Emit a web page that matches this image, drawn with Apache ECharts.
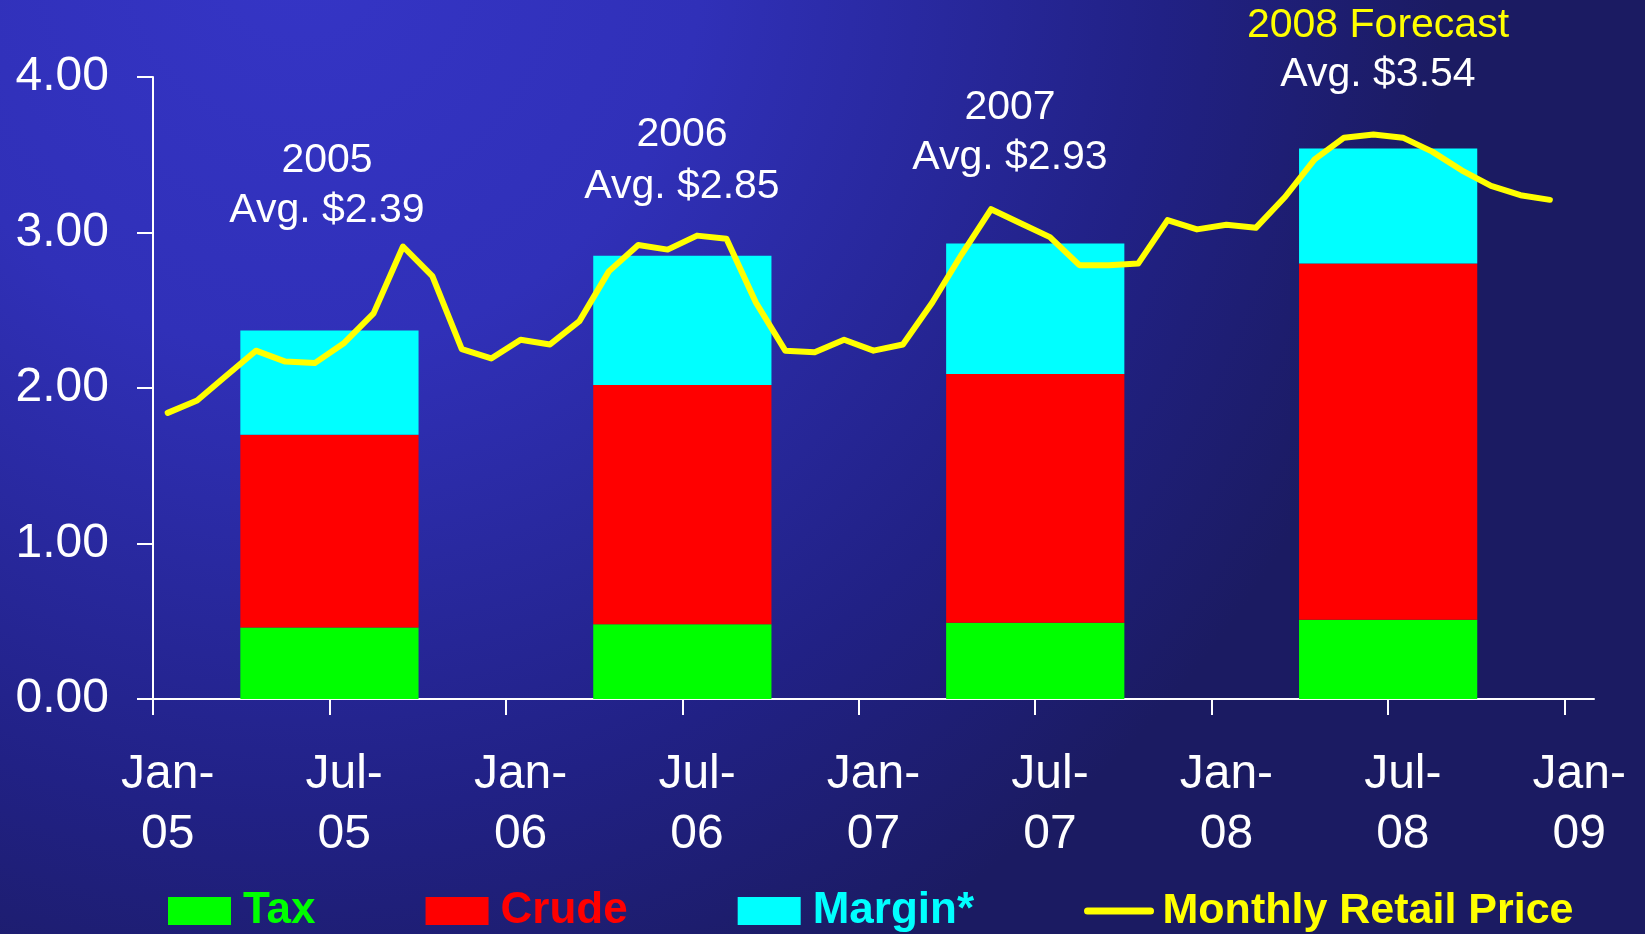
<!DOCTYPE html>
<html>
<head>
<meta charset="utf-8">
<script src="https://cdn.jsdelivr.net/npm/echarts@6/dist/echarts.min.js"></script>
<style>
html,body{margin:0;padding:0;background:#1b1b62;}
#chart{width:1645px;height:934px;}
</style>
</head>
<body>
<div id="chart"></div>
<script>
// ---- data ----
const months = [
  'Jan-05','Feb-05','Mar-05','Apr-05','May-05','Jun-05','Jul-05','Aug-05','Sep-05','Oct-05','Nov-05','Dec-05',
  'Jan-06','Feb-06','Mar-06','Apr-06','May-06','Jun-06','Jul-06','Aug-06','Sep-06','Oct-06','Nov-06','Dec-06',
  'Jan-07','Feb-07','Mar-07','Apr-07','May-07','Jun-07','Jul-07','Aug-07','Sep-07','Oct-07','Nov-07','Dec-07',
  'Jan-08','Feb-08','Mar-08','Apr-08','May-08','Jun-08','Jul-08','Aug-08','Sep-08','Oct-08','Nov-08','Dec-08',
  'Jan-09'
];
const retailPrice = [
  1.84, 1.92, 2.08, 2.24, 2.17, 2.16, 2.29, 2.48, 2.91, 2.72, 2.25, 2.19,
  2.31, 2.28, 2.43, 2.75, 2.92, 2.89, 2.98, 2.96, 2.55, 2.24, 2.23, 2.31,
  2.24, 2.28, 2.55, 2.86, 3.15, 3.06, 2.97, 2.79, 2.79, 2.80, 3.08, 3.02,
  3.05, 3.03, 3.23, 3.47, 3.61, 3.63, 3.61, 3.52, 3.40, 3.30, 3.24, 3.21
];
const barYears = ['2005', '2006', '2007', '2008'];
const barCenterMonth = ['Jul-05', 'Jul-06', 'Jul-07', 'Jul-08'];
const tax    = [0.46, 0.48, 0.49, 0.51];
const crude  = [1.24, 1.54, 1.60, 2.29];
const margin = [0.67, 0.83, 0.84, 0.74];
const yearTitles = ['2005', '2006', '2007', '2008 Forecast'];
const avgLabels  = ['Avg. $2.39', 'Avg. $2.85', 'Avg. $2.93', 'Avg. $3.54'];

// ---- build ----
const FONT = "'Liberation Sans', Arial, Helvetica, sans-serif";
const BAR_HALF = 3.03; // half bar width in months
const centers = barCenterMonth.map(m => months.indexOf(m)); // month boundary index
const tickMonths = months.map((m, i) => (m.startsWith('Jan') || m.startsWith('Jul')) ? i : -1).filter(i => i >= 0);

function stackData(lowerArrays, vals) {
  return vals.map((v, i) => {
    let base = 0;
    lowerArrays.forEach(a => base += a[i]);
    return [centers[i], base, base + v];
  });
}
const taxData = stackData([], tax);
const crudeData = stackData([tax], crude);
const marginData = stackData([tax, crude], margin);

function renderBar(params, api) {
  const c = api.value(0), lo = api.value(1), hi = api.value(2);
  const p0 = api.coord([c - BAR_HALF, hi]);
  const p1 = api.coord([c + BAR_HALF, lo]);
  return {
    type: 'rect',
    shape: { x: p0[0], y: p0[1], width: p1[0] - p0[0], height: p1[1] - p0[1] },
    style: { fill: api.visual('color') }
  };
}

const chart = echarts.init(document.getElementById('chart'));

const annoX = [327, 682, 1010, 1378];
const titleY = [161, 135, 108, 26];
const avgY = [211, 187, 158, 75];
const graphics = [{
  type: 'rect', z: -100, silent: true,
  shape: { x: 0, y: 0, width: 1645, height: 934 },
  style: {
    fill: {
      type: 'radial', x: 300, y: -50, r: 1150, global: true,
      colorStops: [
        { offset: 0, color: '#3535c6' },
        { offset: 0.35, color: '#3030b8' },
        { offset: 0.75, color: '#212185' },
        { offset: 1, color: '#1b1b62' }
      ]
    }
  }
}];
yearTitles.forEach((t, i) => {
  graphics.push({
    type: 'text', x: annoX[i], y: titleY[i], z: 10,
    style: { text: t, fill: i === 3 ? '#ffff00' : '#ffffff', font: '41px ' + FONT, align: 'center', verticalAlign: 'middle' }
  });
  graphics.push({
    type: 'text', x: annoX[i], y: avgY[i], z: 10,
    style: { text: avgLabels[i], fill: '#ffffff', font: '41px ' + FONT, align: 'center', verticalAlign: 'middle' }
  });
});

const option = {
  animation: false,
  graphic: graphics,
  grid: { left: 153, right: 51, top: 77, bottom: 235, containLabel: false },
  legend: {
    left: 168, top: 889, padding: 0,
    itemWidth: 63, itemHeight: 28, itemGap: 110,
    textStyle: { fontFamily: FONT, fontSize: 44, lineHeight: 44, fontWeight: 'bold', padding: [0, 0, 0, 7] },
    data: [
      { name: 'Tax', icon: 'rect', textStyle: { color: '#00ff00' } },
      { name: 'Crude', icon: 'rect', textStyle: { color: '#ff0000' } },
      { name: 'Margin*', icon: 'rect', textStyle: { color: '#00ffff' } },
      { name: 'Monthly Retail Price', textStyle: { color: '#ffff00', fontSize: 43 },
        itemStyle: { opacity: 0 }, lineStyle: { width: 7, color: '#ffff00', cap: 'round' } }
    ]
  },
  xAxis: [{
    type: 'category',
    data: months,
    boundaryGap: true,
    axisLine: { show: true, lineStyle: { color: '#ffffff', width: 2 } },
    axisTick: { show: false },
    axisLabel: {
      interval: 5, color: '#ffffff', fontFamily: FONT, fontSize: 48, lineHeight: 60, margin: 46,
      formatter: v => v.replace('-', '-\n')
    },
    splitLine: { show: false }
  }, {
    type: 'value', min: 0, max: months.length, position: 'bottom', offset: 0,
    axisLine: { show: false },
    axisLabel: { show: false },
    splitLine: { show: false },
    axisTick: { show: true, customValues: tickMonths, length: 16, lineStyle: { color: '#ffffff', width: 2 } }
  }],
  yAxis: {
    type: 'value', min: 0, max: 4, interval: 1,
    axisLine: { show: true, lineStyle: { color: '#ffffff', width: 2 } },
    axisTick: { show: true, length: 16, lineStyle: { color: '#ffffff', width: 2 } },
    axisLabel: { color: '#ffffff', fontFamily: FONT, fontSize: 48, margin: 44, formatter: v => v.toFixed(2) },
    splitLine: { show: false }
  },
  series: [
    { name: 'Tax', type: 'custom', xAxisIndex: 1, yAxisIndex: 0, renderItem: renderBar,
      itemStyle: { color: '#00ff00' }, encode: { x: 0, y: [1, 2] }, data: taxData, z: 2 },
    { name: 'Crude', type: 'custom', xAxisIndex: 1, yAxisIndex: 0, renderItem: renderBar,
      itemStyle: { color: '#ff0000' }, encode: { x: 0, y: [1, 2] }, data: crudeData, z: 2 },
    { name: 'Margin*', type: 'custom', xAxisIndex: 1, yAxisIndex: 0, renderItem: renderBar,
      itemStyle: { color: '#00ffff' }, encode: { x: 0, y: [1, 2] }, data: marginData, z: 2 },
    { name: 'Monthly Retail Price', type: 'line', xAxisIndex: 0, yAxisIndex: 0,
      data: retailPrice, symbol: 'none', showSymbol: false, z: 5,
      itemStyle: { color: '#ffff00' },
      lineStyle: { color: '#ffff00', width: 6, cap: 'round', join: 'round' } }
  ]
};
chart.setOption(option);
</script>
</body>
</html>
